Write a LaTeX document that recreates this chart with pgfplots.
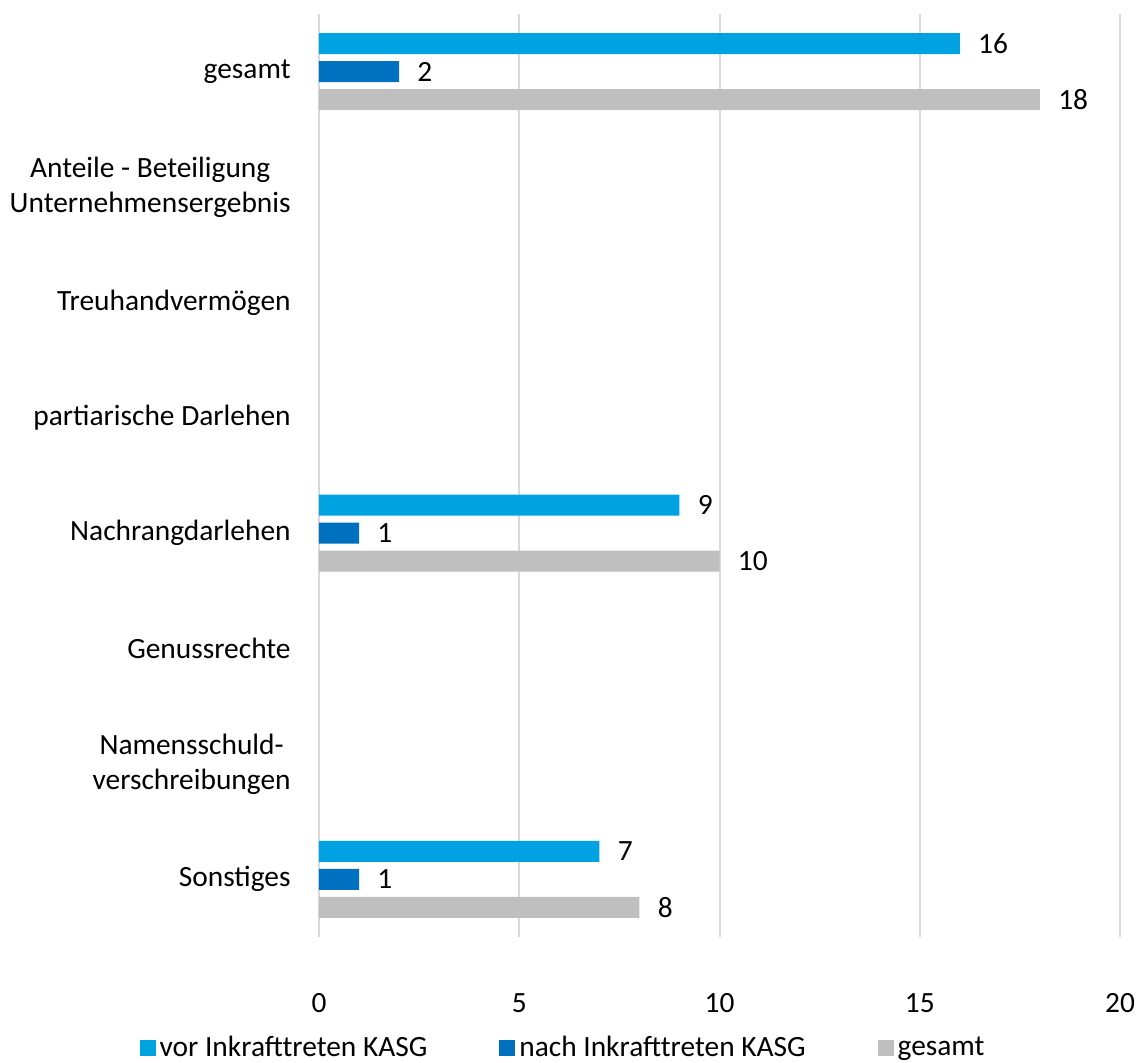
\documentclass[border=0pt]{standalone}
\usepackage{fontspec}
\setmainfont{Carlito}
\usepackage{pgfplots}
\pgfplotsset{compat=1.18}
\definecolor{cvor}{RGB}{0,162,226}
\definecolor{cnach}{RGB}{0,112,192}
\definecolor{cges}{RGB}{191,191,191}
\definecolor{cgrid}{RGB}{217,217,217}
\begin{document}
\begin{tikzpicture}
\useasboundingbox (-159.5pt,-62.5pt) rectangle (409.5pt,468.5pt);
\begin{axis}[
 at={(0pt,0pt)}, anchor=south west,
 scale only axis, width=400.5pt, height=461.5pt,
 xmin=0, xmax=20, ymin=-0.5, ymax=7.5,
 xbar, bar width=10.5pt,
 axis line style={draw=none},
 xtick={0,5,10,15,20},
 ytick={0,1,2,3,4,5,6,7},
 yticklabels={{Sonstiges},{Namensschuld-\\verschreibungen},{Genussrechte},{Nachrangdarlehen},{partiarische Darlehen},{Treuhandvermögen},{Anteile - Beteiligung\\Unternehmensergebnis},{gesamt}},
 major tick length=0pt,
 xmajorgrids, grid style={cgrid, line width=1pt},
 /pgf/number format/assume math mode=true,
 tick label style={font=\fontsize{14.7}{17.5}\selectfont, text=black},
 xticklabel style={inner sep=0pt, anchor=north, yshift=-28pt},
 yticklabel style={align=center, inner sep=0pt, anchor=east, xshift=-14pt},
 nodes near coords,
 nodes near coords style={font=\fontsize{14.7}{17}\selectfont, anchor=west, inner sep=0pt, xshift=9pt, text=black},
 legend columns=3,
 legend style={draw=none, at={(0.306,-0.12)}, anchor=center, font=\fontsize{14.7}{17}\selectfont,
   /tikz/every even column/.append style={column sep=34pt}},
 legend image code/.code={\fill[#1] (0pt,-4pt) rectangle (8pt,4pt);},
]
\addplot[fill=cvor, draw=none, bar shift=14pt] coordinates {(16,7) (9,3) (7,0)};
\addplot[fill=cnach, draw=none, bar shift=0pt] coordinates {(2,7) (1,3) (1,0)};
\addplot[fill=cges, draw=none, bar shift=-14pt] coordinates {(18,7) (10,3) (8,0)};
\legend{vor Inkrafttreten KASG, nach Inkrafttreten KASG, gesamt}
\end{axis}
\end{tikzpicture}
\end{document}
